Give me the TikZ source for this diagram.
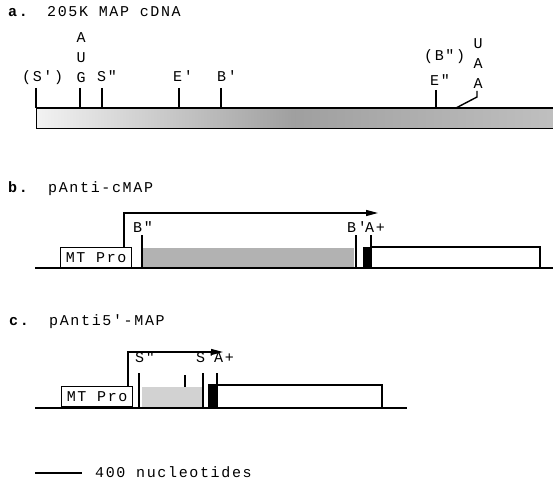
\documentclass[tikz,border=0pt]{standalone}
\usepackage{fontspec}
\newfontfamily\mapfont[LetterSpace=11]{Liberation Mono}
\usetikzlibrary{positioning,arrows.meta}
\newcommand{\apo}{\char"27\relax}
\newcommand{\dq}{\char"22\relax}

\begin{document}
\begin{tikzpicture}[x=1pt,y=-1pt,>={Triangle[length=12pt,width=6pt]},
  lbl/.style={font=\mapfont\fontsize{15}{18}\selectfont,inner sep=0pt,anchor=base west},
  stack/.style={font=\mapfont\fontsize{15}{20}\selectfont,inner sep=0pt,anchor=south,align=center},
  site/.style={line width=1.4pt},
  seg/.style={line width=1.3pt},
  dna/.style={line width=2.4pt},
  probox/.style={draw,line width=1.3pt,anchor=north west,inner sep=0pt,
    minimum width=71pt,minimum height=20pt,font=\mapfont\fontsize{15}{16}\selectfont}]
\useasboundingbox (0,0) rectangle (553,481);

% a. the cDNA
\node[lbl] (la) at (8,17) {\textbf{a.}};
\node[lbl] (ta) at (47,17) {205K MAP cDNA};
\shade[left color=gray!10,right color=gray!50,middle color=gray!75] (36,108) rectangle (553,129);
\draw[line width=1pt] (553,129) -- (36,129) -- (36,108);
\draw[dna] (36,108) -- (553,108);
\foreach \x in {36,80,102,179,221} \draw[site] (\x,88) -- (\x,108);
\draw[site] (436,90) -- (436,108);
\draw[site] (477,91) -- (477,97) -- (456,108);
\node[lbl] (sa) at (22,82) {(S\apo)};
\node[stack] (aug) at (81,83) {A\\U\\G};
\node[lbl] (sb) at (97,82) {S\dq};
\node[lbl] (ea) at (173,82) {E\apo};
\node[lbl] (ba) at (217,82) {B\apo};
\node[lbl] (bb) at (424,61) {(B\dq)};
\node[lbl] (eb) at (430,86) {E\dq};
\node[stack] (uaa) at (478,89) {U\\A\\A};

% b. pAnti-cMAP
\node[lbl] (lb) at (8,192) {\textbf{b.}};
\node[lbl] (tb) at (48,192) {pAnti-cMAP};
\draw[dna] (35,268) -- (553,268);
\node[probox] (mtb) at (60,247) {MT Pro};
\fill[gray!60] (143,248) rectangle (354,267);
\fill (363,247) rectangle (371,268);
\draw[seg] (371,268) -- (371,247) -- (540,247) -- (540,268);
\foreach \x in {142,356} \draw[site] (\x,235) -- (\x,268);
\draw[site] (371,235) -- (371,247);
\draw[->,seg] (124,247) -- (124,213) -- (378,213);
\node[lbl] (bbb) at (133,232) {B\dq};
\node[lbl] (bab) at (347,232) {B\apo};
\node[lbl] (apb) at (365,232) {A+};

% c. pAnti5'-MAP
\node[lbl] (lc) at (9,325) {\textbf{c.}};
\node[lbl] (tc) at (49,325) {pAnti5\apo-MAP};
\draw[dna] (35,408) -- (407,408);
\node[probox] (mtc) at (61,386) {MT Pro};
\fill[gray!35] (142,387) rectangle (202,407);
\fill (208,384) rectangle (217,408);
\draw[seg] (217,408) -- (217,385) -- (382,385) -- (382,408);
\foreach \x in {139,203} \draw[site] (\x,373) -- (\x,408);
\draw[site] (185,375) -- (185,387);
\draw[site] (217,373) -- (217,385);
\draw[->,seg] (128,386) -- (128,352) -- (223,352);
\node[lbl] (sbc) at (135,362) {S\dq};
\node[lbl] (sac) at (196,362) {S\apo};
\node[lbl] (apc) at (214,362) {A+};

% scale
\draw[line width=2.5pt] (35,473) -- (82,473);
\node[lbl] (sc) at (95,477) {400 nucleotides};
\end{tikzpicture}
\end{document}
